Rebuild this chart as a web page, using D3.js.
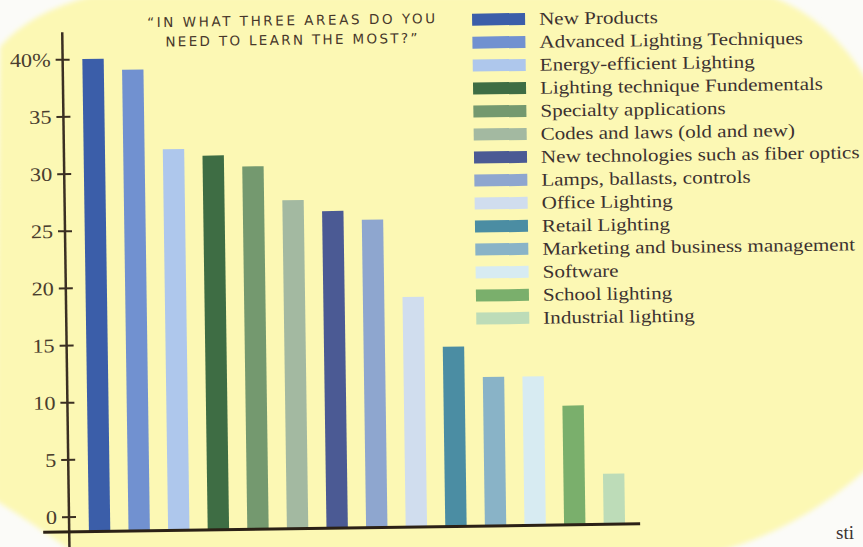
<!DOCTYPE html>
<html>
<head>
<meta charset="utf-8">
<script src="https://cdn.jsdelivr.net/npm/d3@7"></script>
<style>
  html, body { margin: 0; padding: 0; background: #fbfbf8; }
  svg { display: block; }
</style>
</head>
<body>
<svg id="chart" width="863" height="547"></svg>
<script>
// ---- data ----
const categories = [
  "New Products",
  "Advanced Lighting Techniques",
  "Energy-efficient Lighting",
  "Lighting technique Fundementals",
  "Specialty applications",
  "Codes and laws (old and new)",
  "New technologies such as fiber optics",
  "Lamps, ballasts, controls",
  "Office Lighting",
  "Retail Lighting",
  "Marketing and business management",
  "Software",
  "School lighting",
  "Industrial lighting"
];
const values = [40, 39, 32, 31.4, 30.4, 27.4, 26.4, 25.6, 18.8, 14.4, 11.7, 11.7, 9.1, 3.1];
const colors = [
  "#3b5ea9", "#7191d0", "#aec7ec", "#3e6d44", "#74996f", "#a3b9a1", "#4b5a94",
  "#8ea6cf", "#d0ddee", "#4b8da3", "#89b3c7", "#d7ebf2", "#7aaf6c", "#bddcb8"
];
const tickValues = [0, 5, 10, 15, 20, 25, 30, 35, 40];
const tickLabels = ["0", "5", "10", "15", "20", "25", "30", "35", "40%"];
const titleLines = ["\u201CIN WHAT THREE AREAS DO YOU", "NEED TO LEARN THE MOST?\u201D"];
const pageText = "sti";

// ---- drawing ----
const W = 863, H = 547;
const svg = d3.select("#chart");

// background: photographed page with a yellow shape
const defs = svg.append("defs");
defs.append("filter").attr("id", "soft")
  .append("feGaussianBlur").attr("stdDeviation", 2.5);
svg.append("rect").attr("width", W).attr("height", H).attr("fill", "#fbfbf8");
svg.append("path")
  .attr("fill", "#fcf8b4")
  .attr("filter", "url(#soft)")
  .attr("d", "M0,47 Q30,12 92,-4 L770,-4 Q830,18 868,82 L868,468 Q800,529 717,552 L73,552 Q28,520 -5,500 Z");

svg.append("text")
  .attr("x", 836).attr("y", 539)
  .attr("font-family", "Liberation Serif, serif")
  .attr("font-size", 19)
  .attr("fill", "#3a3030")
  .text(pageText);

const g = svg.append("g").attr("transform", "rotate(-0.8, 340, 300)");

const axisX = 66;
const baseY = 528;

const y = d3.scaleLinear().domain([0, 40]).range([512.8, 55.4]);
const x = d3.scaleBand().domain(categories).range([76.6, 631])
  .paddingInner(0.46).paddingOuter(0.23);

// bars
g.append("g").selectAll("rect")
  .data(categories)
  .join("rect")
  .attr("x", d => x(d))
  .attr("y", (d, i) => y(values[i]))
  .attr("width", x.bandwidth())
  .attr("height", (d, i) => baseY - y(values[i]))
  .attr("fill", (d, i) => colors[i]);

// vertical axis
g.append("line")
  .attr("x1", axisX).attr("x2", axisX)
  .attr("y1", y(40) - 27).attr("y2", H + 20)
  .attr("stroke", "#3b2f22").attr("stroke-width", 2.5);

const axis = g.append("g")
  .attr("transform", `translate(${axisX},0)`)
  .call(d3.axisLeft(y).tickValues(tickValues)
    .tickFormat((d, i) => tickLabels[i]).tickSize(0));
axis.select(".domain").remove();
axis.selectAll(".tick line")
  .attr("x1", -7).attr("x2", 7)
  .attr("stroke", "#3b2f22").attr("stroke-width", 2);
axis.selectAll(".tick text")
  .attr("x", 0)
  .attr("dy", "0.34em")
  .attr("transform", "translate(-12,0) scale(1.14,1)")
  .attr("font-family", "Liberation Serif, serif")
  .attr("font-size", 19.5)
  .attr("fill", "#4a3d2e");

// baseline
g.append("line")
  .attr("x1", 40).attr("x2", 637)
  .attr("y1", baseY).attr("y2", baseY)
  .attr("stroke", "#2b2116").attr("stroke-width", 3);

// title
g.append("g").selectAll("text")
  .data(titleLines)
  .join("text")
  .attr("x", 295)
  .attr("y", (d, i) => 24.5 + i * 19.5)
  .attr("text-anchor", "middle")
  .attr("font-family", "DejaVu Sans, sans-serif")
  .attr("font-size", 13.5)
  .attr("textLength", (d, i) => i === 0 ? 288 : 252)
  .attr("lengthAdjust", "spacing")
  .attr("fill", "#47372a")
  .text(d => d);

// legend
const legendY = d3.scaleLinear().domain([0, categories.length - 1]).range([21.5, 21.5 + 23 * 13]);
const leg = g.append("g").selectAll("g")
  .data(categories)
  .join("g");
leg.append("rect")
  .attr("x", 476)
  .attr("y", (d, i) => legendY(i) - 6)
  .attr("width", 53).attr("height", 12)
  .attr("fill", (d, i) => colors[i]);
leg.append("text")
  .attr("transform", (d, i) => `translate(543,${legendY(i) + 6}) scale(1.17,1)`)
  .attr("font-family", "Liberation Serif, serif")
  .attr("font-size", 18)
  .attr("fill", "#3c3230")
  .text(d => d);
</script>
</body>
</html>
